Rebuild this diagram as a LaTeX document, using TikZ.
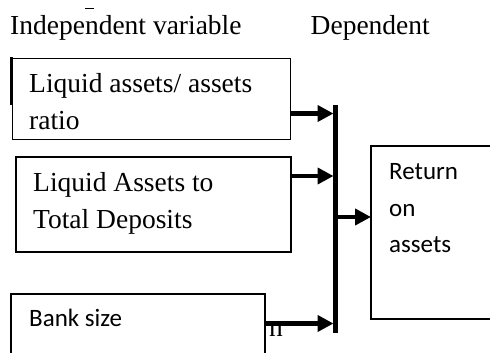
\documentclass[tikz,border=0pt]{standalone}
\usepackage{fontspec}
\setmainfont{Liberation Serif}
\newfontfamily\labelsans{Carlito}
\usetikzlibrary{arrows.meta}
\begin{document}
\begin{tikzpicture}[x=1pt,y=-1pt,
  box/.style={draw=black, line width=1.1pt, fill=white, inner sep=0pt, outer sep=0pt, anchor=north west},
  serif/.style={anchor=base west, inner sep=0pt, font=\fontsize{27.5}{33}\selectfont},
  sans/.style={anchor=base west, inner sep=0pt, font=\labelsans\fontsize{25}{30}\selectfont},
  arr/.style={line width=4.2pt, -{Triangle[length=16pt,width=16pt]}},
  bar/.style={line width=5pt}]
\useasboundingbox (0,0) rectangle (490,353);
\clip (0,0) rectangle (490,353);

% headings
\node[serif] (hind) at (10,35) {Independent variable};
\node[serif] (hdep) at (310.5,35) {Dependent};
\draw[line width=1.2pt] (85,8.5) -- (94,8.5);

% partly hidden text behind the bank size box
\node[serif, anchor=base east] (frag) at (283,336) {n};

% independent variable boxes
\node[box, minimum width=278pt, minimum height=81pt] (b1) at (12.7,58.3) {};
\draw[line width=3pt] (11.5,57.5) -- (11.5,105);
\node[serif] (t1a) at (29,92.5) {Liquid assets/ assets};
\node[serif] (t1b) at (29,129.5) {ratio};

\node[box, minimum width=275pt, minimum height=95pt] (b2) at (16,157) {};
\node[serif] (t2a) at (33,191.7) {Liquid Assets to};
\node[serif] (t2b) at (33,228.3) {Total Deposits};

\node[box, minimum width=254pt, minimum height=75pt] (b4) at (11,294) {};
\node[sans] (t4) at (29,326.5) {Bank size};

% dependent variable box
\node[box, minimum width=140pt, minimum height=173pt] (b3) at (371,146) {};
\node[sans] (t3a) at (389,179.3) {Return};
\node[sans] (t3b) at (389,216.7) {on};
\node[sans] (t3c) at (389,252.7) {assets};

% collecting bar and arrows
\coordinate (bt) at (335.5,105);
\coordinate (bb) at (335.5,333);
\draw[bar] (bt) -- (bb);
\coordinate (j1) at (333.5,113.5);
\coordinate (j2) at (333.5,176);
\coordinate (j3) at (333.5,323.5);
\coordinate (m) at (337.5,217);
\draw[arr] (b1.east |- j1) -- (j1);
\draw[arr] (b2.east |- j2) -- (j2);
\draw[arr] (b4.east |- j3) -- (j3);
\draw[arr] (m) -- (b3.west |- m);
\end{tikzpicture}
\end{document}
